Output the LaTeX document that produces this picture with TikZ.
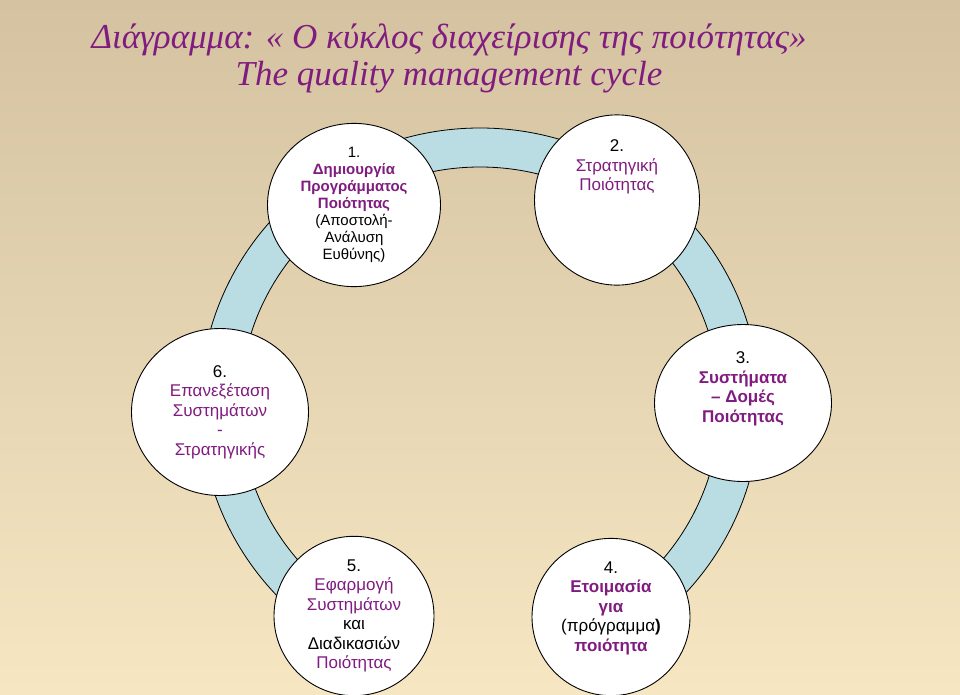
\documentclass[tikz,border=0pt]{standalone}
\usetikzlibrary{shapes.geometric}
\usepackage{fontspec}
\setmainfont{Liberation Sans}
\newfontfamily\titlefont{Liberation Serif}
\definecolor{purp}{RGB}{128,28,128}
\definecolor{ringc}{RGB}{185,221,227}
\definecolor{bgtop}{RGB}{212,194,160}
\definecolor{bgbot}{RGB}{246,230,194}
\begin{document}
\begin{tikzpicture}[x=1pt,y=-1pt,
  circ/.style={draw=black,fill=white,line width=0.9pt,ellipse,inner sep=0pt,align=center,font=\fontsize{17}{19.5}\selectfont}]
\fill[top color=bgtop,bottom color=bgbot] (0,0) rectangle (960,694);
\useasboundingbox (0,0) rectangle (960,694);
\node[font=\titlefont\itshape\fontsize{35}{37}\selectfont,text=purp,align=center] (title) at (449,58) {Διάγραμμα: « Ο κύκλος διαχείρισης της ποιότητας»\\The quality management cycle};
\begin{scope}
\clip (0,0) -- (960,0) -- (960,694) -- (611,694) -- (480,405) -- (354,694) -- (0,694) -- cycle;
\fill[ringc,draw=black,line width=0.8pt,even odd rule] (480,405) ellipse [x radius=280,y radius=277] (480,405) ellipse [x radius=240,y radius=238];
\end{scope}
\begin{scope}[every node/.style={circ}]
\node[minimum width=173,minimum height=143,font=\fontsize{15}{17}\selectfont] (c1) at (354,205) {1.\\{\color{purp}\bfseries Δημιουργία}\\{\color{purp}\bfseries Προγράμματος}\\{\color{purp}\bfseries Ποιότητας}\\(Αποστολή-\\Ανάλυση\\Ευθύνης)};
\node[minimum width=165,minimum height=155] (c2) at (617,200) {2.\\{\color{purp}Στρατηγική}\\{\color{purp}Ποιότητας}\\[50pt]\mbox{}};
\node[minimum width=177,minimum height=167] (c6) at (220,412) {6.\\{\color{purp}Επανεξέταση}\\{\color{purp}Συστημάτων}\\{\color{purp}-}\\{\color{purp}Στρατηγικής}};
\node[minimum width=177,minimum height=157] (c3) at (743,403) {3.\\{\color{purp}\bfseries Συστήματα}\\{\color{purp}\bfseries – Δομές}\\{\color{purp}\bfseries Ποιότητας}\\[12pt]\mbox{}};
\node[minimum width=160,minimum height=152] (c5) at (354,616) {5.\\{\color{purp}Εφαρμογή}\\{\color{purp}Συστημάτων}\\και\\Διαδικασιών\\{\color{purp}Ποιότητας}};
\node[minimum width=158,minimum height=148] (c4) at (611,617) {4.\\{\color{purp}\bfseries Ετοιμασία}\\{\color{purp}\bfseries για}\\(πρόγραμμα{\bfseries )}\\{\color{purp}\bfseries ποιότητα}\\[2pt]\mbox{}};
\end{scope}
\end{tikzpicture}
\end{document}
